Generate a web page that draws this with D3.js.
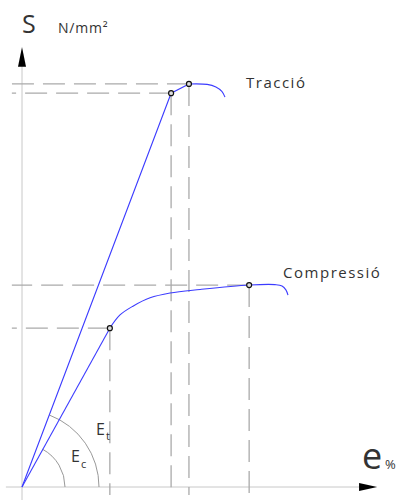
<!DOCTYPE html>
<html><head><meta charset="utf-8">
<script src="https://cdn.jsdelivr.net/npm/d3@7"></script>
<style>body{margin:0;background:#fff}svg{display:block}text{font-family:"Open Sans","DejaVu Sans",sans-serif;fill:#333}</style>
</head><body><svg id="c" width="403" height="500"></svg>
<script>
// strain (arbitrary units) and stress (arbitrary units)
const traccioElastic = [[0,0],[4.26,89.5],[4.77,91.6]];
const traccioPlastic = [[4.77,91.6],[5.29,91.5],[5.54,90.9],[5.71,89.9],[5.80,88.6]];
const compElastic = [[0,0],[2.51,36.1]];
const compPlastic = [[2.51,36.1],[2.80,39.1],[3.17,41.1],[3.66,43.0],[4.23,44.1],[5.09,44.9],[6.49,45.9],[7.23,46.0],[7.43,45.7],[7.54,44.8],[7.60,43.6]];
const keyPoints = [[4.26,89.5],[4.77,91.6],[2.51,36.1],[6.49,45.9]];
const curveLabels = [{t:"Tracció",x:6.4,y:90.7},{t:"Compressió",x:7.46,y:47.5}];

const svg = d3.select("#c");
const x = d3.scaleLinear().domain([0,10]).range([22,372]);
const y = d3.scaleLinear().domain([0,100]).range([487,47]);

// axes
svg.append("line").attr("x1",x(-0.46)).attr("x2",x(9.9)).attr("y1",y(0)).attr("y2",y(0)).attr("stroke","#c8c8c8").attr("stroke-width",1);
svg.append("line").attr("x1",x(0)).attr("x2",x(0)).attr("y1",500).attr("y2",y(97)).attr("stroke","#c8c8c8").attr("stroke-width",1);
svg.append("path").attr("d",`M${x(0)},${y(100)} L${x(0)-4},${y(95.5)} L${x(0)+4},${y(95.5)} Z`).attr("fill","#000");
svg.append("path").attr("d",`M${x(10.15)},${y(0)} L${x(9.63)},${y(0)-4} L${x(9.63)},${y(0)+4} Z`).attr("fill","#000");

// dashed guides
keyPoints.forEach(p=>{
  svg.append("line").attr("x1",x(p[0])).attr("x2",x(-0.29)).attr("y1",y(p[1])).attr("y2",y(p[1]))
     .attr("stroke","#aaa").attr("stroke-width",1.3).attr("stroke-dasharray","22,9");
  svg.append("line").attr("x1",x(p[0])).attr("x2",x(p[0])).attr("y1",y(p[1])).attr("y2",495)
     .attr("stroke","#aaa").attr("stroke-width",1.3).attr("stroke-dasharray","22,9");
});

// arcs
const angT = Math.atan2(y(0)-y(89.5), x(4.26)-x(0));
const angC = Math.atan2(y(0)-y(36.1), x(2.51)-x(0));
function arcPath(r, a){
  const cx=x(0), cy=y(0);
  return `M${cx+r},${cy} A${r},${r} 0 0 0 ${cx+r*Math.cos(a)},${cy-r*Math.sin(a)}`;
}
svg.append("path").attr("d",arcPath(43,angC)).attr("fill","none").attr("stroke","#999").attr("stroke-width",1);
svg.append("path").attr("d",arcPath(77,angT)).attr("fill","none").attr("stroke","#999").attr("stroke-width",1);

// curves
const lin = d3.line().x(d=>x(d[0])).y(d=>y(d[1]));
const cur = d3.line().x(d=>x(d[0])).y(d=>y(d[1])).curve(d3.curveCatmullRom);
[[traccioElastic,lin],[traccioPlastic,cur],[compElastic,lin],[compPlastic,cur]].forEach(([d,g])=>{
  svg.append("path").attr("d",g(d)).attr("fill","none").attr("stroke","#3c3cff").attr("stroke-width",1.1);
});
keyPoints.forEach(p=>{
  svg.append("circle").attr("cx",x(p[0])).attr("cy",y(p[1])).attr("r",2.5).attr("fill","#ddd").attr("stroke","#111").attr("stroke-width",1.2);
});

// labels
curveLabels.forEach(l=>svg.append("text").attr("x",x(l.x)).attr("y",y(l.y)).attr("font-size",15).attr("letter-spacing",1.5).text(l.t));
svg.append("text").attr("x",22).attr("y",33).attr("font-size",25).text("S");
svg.append("text").attr("x",58).attr("y",33).attr("font-size",14).attr("letter-spacing",0.8).text("N/mm²");
svg.append("text").attr("x",362).attr("y",469).attr("font-size",36).text("e");
svg.append("text").attr("x",385).attr("y",469).attr("font-size",13).text("%");
svg.append("text").attr("x",96).attr("y",435).attr("font-size",16).text("E");
svg.append("text").attr("x",106).attr("y",440).attr("font-size",11).text("t");
svg.append("text").attr("x",71).attr("y",462).attr("font-size",16).text("E");
svg.append("text").attr("x",81).attr("y",468).attr("font-size",11).text("c");
</script></body></html>
